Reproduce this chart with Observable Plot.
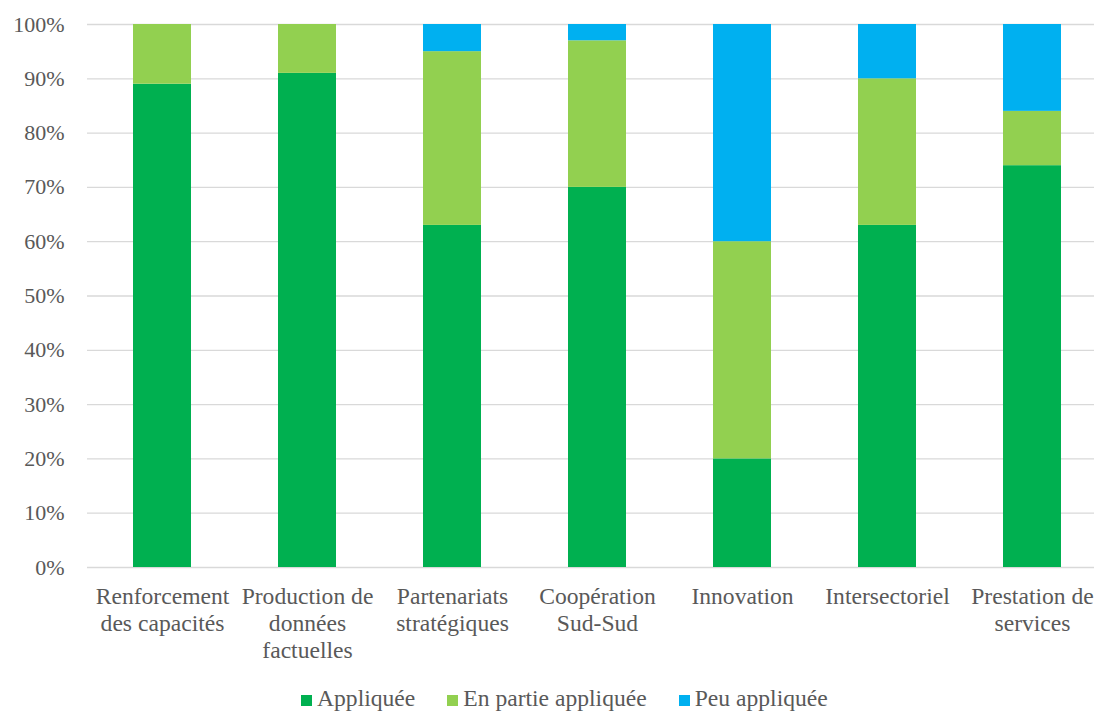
<!DOCTYPE html>
<html>
<head>
<meta charset="utf-8">
<script src="https://cdn.jsdelivr.net/npm/d3@7"></script>
<script src="https://cdn.jsdelivr.net/npm/@observablehq/plot@0.6"></script>
<style>
  html, body { margin: 0; padding: 0; background: #fff; overflow: hidden; }
  #wrap { position: relative; width: 1094px; height: 713px; overflow: hidden; }
  #chart svg { display: block; max-width: none; }
  #legend {
    position: absolute; top: 685px; left: 301px; height: 27px;
    display: flex; align-items: center;
    font-family: "Liberation Serif", "Times New Roman", Times, serif;
    font-size: 23.6px; line-height: 27px; color: #595959; white-space: nowrap;
  }
  #legend .item { display: flex; align-items: center; margin-right: 32px; }
  #legend .sw { width: 11px; height: 11px; margin-right: 5px; position: relative; top: 2px; }
</style>
</head>
<body>
<div id="wrap">
  <div id="chart"></div>
  <div id="legend"></div>
</div>
<script>
// Categories (x axis) and their wrapped labels
const categories = [
  "Renforcement des capacités",
  "Production de données factuelles",
  "Partenariats stratégiques",
  "Coopération Sud-Sud",
  "Innovation",
  "Intersectoriel",
  "Prestation de services"
];
const categoryLabels = [
  "Renforcement\ndes capacités",
  "Production de\ndonnées\nfactuelles",
  "Partenariats\nstratégiques",
  "Coopération\nSud-Sud",
  "Innovation",
  "Intersectoriel",
  "Prestation de\nservices"
];

// Series (percent of responses)
const seriesNames = ["Appliquée", "En partie appliquée", "Peu appliquée"];
const appliquee         = [89, 91, 63, 70, 20, 63, 74];
const enPartieAppliquee = [11,  9, 32, 27, 40, 27, 10];
const peuAppliquee      = [ 0,  0,  5,  3, 40, 10, 16];
const seriesColors = ["#00B050", "#92D050", "#00B0F0"];

// Y axis ticks
const yTicks = [0, 10, 20, 30, 40, 50, 60, 70, 80, 90, 100];

const seriesValues = [appliquee, enPartieAppliquee, peuAppliquee];
const rows = [];
seriesNames.forEach((s, si) => {
  categories.forEach((c, ci) => {
    rows.push({category: c, series: s, value: seriesValues[si][ci]});
  });
});

const font = '"Liberation Serif", "Times New Roman", Times, serif';
const textColor = "#595959";

const chart = Plot.plot({
  width: 1106,
  height: 680,
  marginLeft: 87,
  marginRight: 0,
  marginTop: 24,
  marginBottom: 113,
  style: {fontFamily: font, fontSize: "22px", color: textColor, background: "#fff", maxWidth: "none"},
  x: {domain: categories, paddingInner: 0.6, paddingOuter: 0.3, axis: null},
  y: {domain: [0, 100], axis: null},
  color: {domain: seriesNames, range: seriesColors},
  marks: [
    Plot.gridY(yTicks, {stroke: "#D9D9D9", strokeOpacity: 1, strokeWidth: 1.3}),
    Plot.barY(rows, Plot.stackY({
      x: "category", y: "value", fill: "series",
      order: seriesNames
    })),
    Plot.axisY(yTicks, {
      tickSize: 0, tickPadding: 23, fontSize: 22, fill: textColor,
      fontFamily: font,
      tickFormat: d => d + "%", label: null
    }),
    Plot.text(categories, {
      x: d => d, y: () => 0,
      text: (d, i) => categoryLabels[i],
      lineAnchor: "top", dy: 17, lineHeight: 1.15,
      fontSize: 23.6, fill: textColor, fontFamily: font
    })
  ]
});
document.getElementById("chart").appendChild(chart);

// Legend below the chart
const legend = document.getElementById("legend");
seriesNames.forEach((s, i) => {
  const item = document.createElement("div");
  item.className = "item";
  const sw = document.createElement("span");
  sw.className = "sw";
  sw.style.background = seriesColors[i];
  const label = document.createElement("span");
  label.textContent = s;
  item.appendChild(sw);
  item.appendChild(label);
  legend.appendChild(item);
});
</script>
</body>
</html>
